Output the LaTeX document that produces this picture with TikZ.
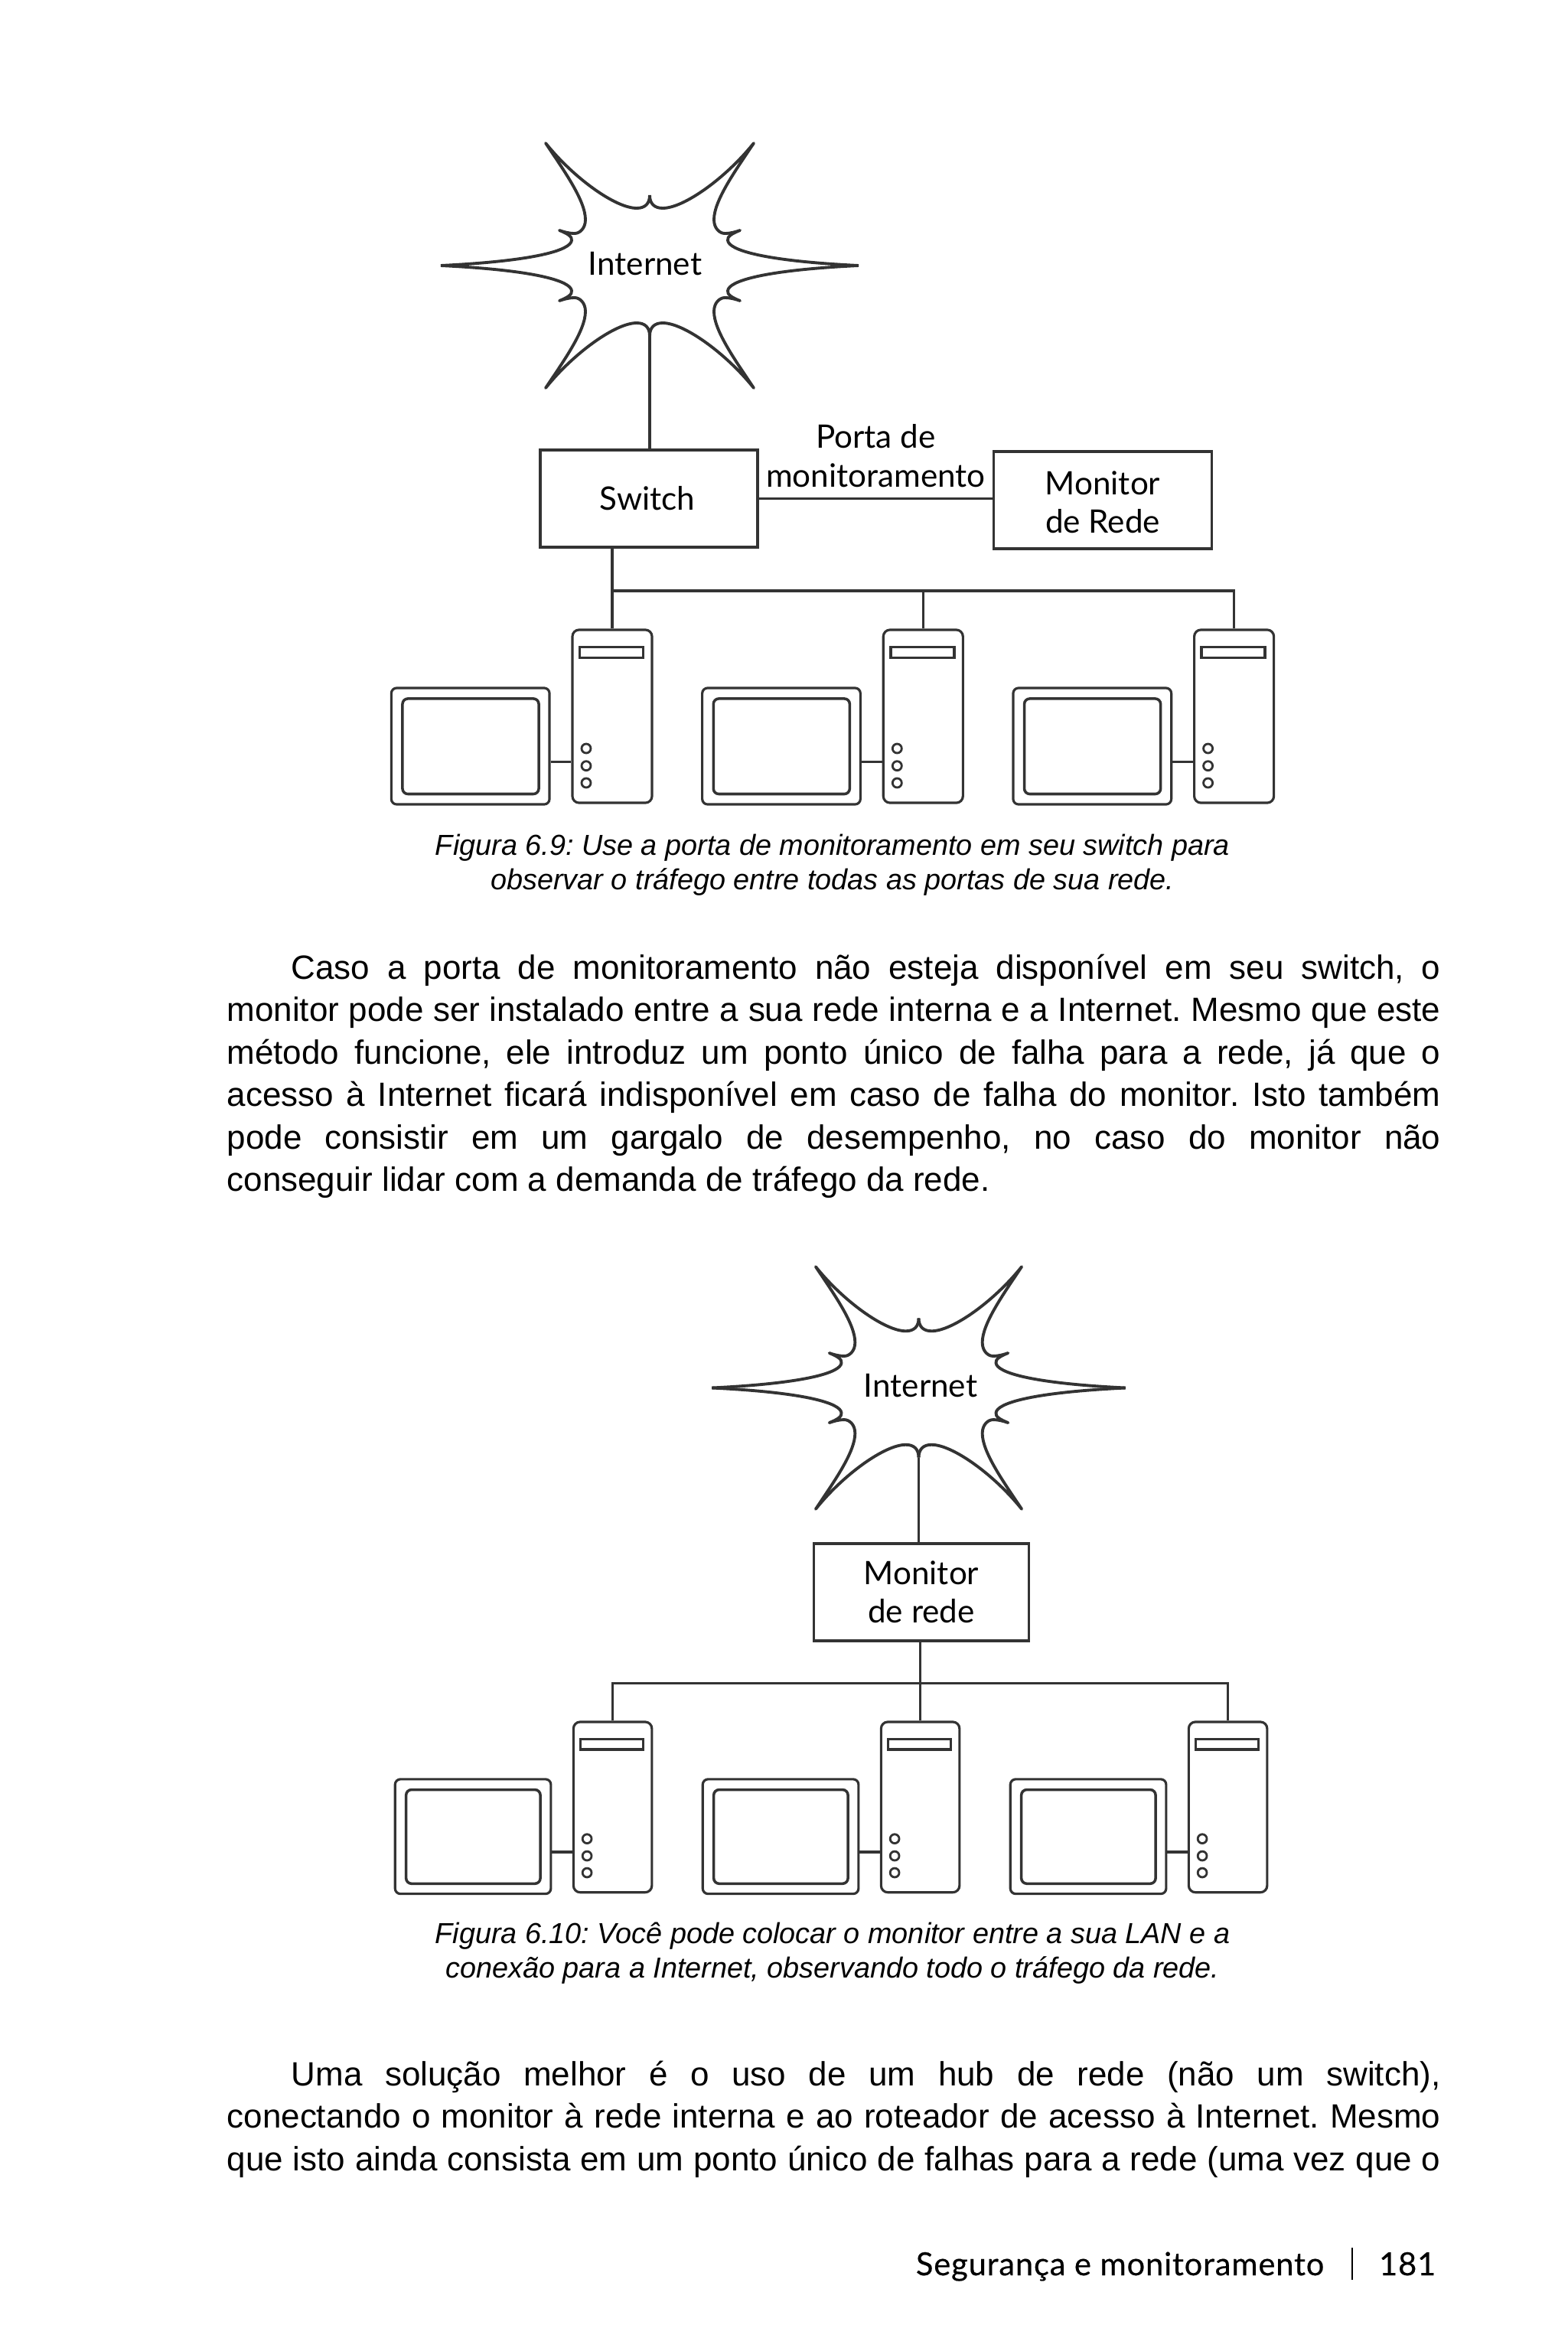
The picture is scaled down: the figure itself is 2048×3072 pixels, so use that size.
\documentclass[tikz,border=0pt]{standalone}
\usepackage{fontspec}
\setmainfont{Liberation Sans}
\newfontfamily\labelfont{Lato}
\newfontfamily\footfont[FakeBold=0.4,LetterSpace=2]{Lato}
\usetikzlibrary{positioning, calc}
\tolerance=9999
\hyphenpenalty=10000
\definecolor{inkgrey}{HTML}{333333}
\tikzset{
  netbox/.style={draw=inkgrey, line width=1pt, rectangle, inner sep=0pt, minimum height=1.27cm, align=center, font=\labelfont\fontsize{12}{14.3}\selectfont},
  netlabel/.style={inner sep=0pt, align=center, font=\labelfont\fontsize{12}{14.5}\selectfont},
  towerbox/.style={draw=inkgrey, line width=.9pt, rectangle, rounded corners=2.5pt, inner sep=0pt, minimum width=1.04cm, minimum height=2.26cm},
  casebox/.style={draw=inkgrey, line width=.9pt, rectangle, rounded corners=2pt, inner sep=0pt, minimum width=2.066cm, minimum height=1.52cm},
  screenbox/.style={draw=inkgrey, line width=1pt, rectangle, rounded corners=2pt, inner sep=0pt, minimum width=1.78cm, minimum height=1.245cm},
  slotbar/.style={draw=inkgrey, line width=1pt, rectangle, inner sep=0pt, minimum width=.83cm, minimum height=.14cm},
  lamp/.style={draw=inkgrey, line width=.8pt, circle, inner sep=0pt, minimum size=.12cm},
  wire/.style={draw=inkgrey, line width=1pt},
  bodytext/.style={anchor=north west, inner sep=0pt, text width=15.85cm, align=justify, font=\frenchspacing\fontsize{12.5}{15.8}\selectfont},
  figcaption/.style={inner sep=0pt, align=center, font=\frenchspacing\itshape\fontsize{10.75}{12.9}\selectfont},
  pics/station/.style={code={
    \node[towerbox] (-tower) at (0,113) {};
    \node[casebox] (-case) at (-185.3,152) {};
    \node[screenbox] (-screen) at (-185,152.2) {};
    \node[slotbar] (-slot) at (-1,29.6) {};
    \foreach \lampy in {155,177.7,200}
      \node[lamp] at (-34,\lampy) {};
    \draw[wire] (-case.east |- 0,172.6) -- (-tower.west |- 0,172.6);
  }},
  pics/burst/.style={code={
    \foreach \sx/\sy in {1/1,-1/1,1/-1,-1/-1}
      \draw[draw=inkgrey, line width=1.1pt, line join=round, xscale=\sx, yscale=\sy]
        (0,-92) .. controls (0,-81) and (6,-75) .. (17,-75)
        .. controls (45,-75) and (100,-115) .. (136,-160)
        .. controls (112,-124) and (84,-85) .. (84,-60)
        .. controls (84,-48) and (92,-42) .. (98,-42)
        .. controls (106,-42) and (112,-44) .. (118,-46)
        .. controls (108,-42) and (101,-38) .. (102,-33)
        .. controls (103,-20) and (150,-6) .. (273,0);
    \coordinate (-base) at (0,92);
  }}
}
\begin{document}
\begin{tikzpicture}[x=.01cm, y=-.01cm]
  \useasboundingbox (0,0) rectangle (2048,3072);

  \pic (burstA) at (849,347) {burst};
  \node[netlabel] (inetA) at (843,345) {Internet};
  \node[netbox, minimum width=2.84cm] (switch) at (848,651.5) {Switch\hspace*{1.2pt}};
  \node[netbox, minimum width=2.85cm] (monA) at (1441,653.5) {\rule{0pt}{10.5pt}Monitor\\de Rede};
  \foreach \pcname/\pcx in {pcA/800,pcB/1206.3,pcC/1612.6}
    \pic (\pcname) at (\pcx,823) {station};
  \coordinate (busA) at (800,772);

  \draw[wire] (burstA-base) -- (burstA-base |- switch.north);
  \draw[wire] (switch.east) -- node[netlabel, above=3.6pt] (port) {Porta de\\monitoramento} (switch.east -| monA.west);
  \draw[wire] (switch.south -| pcA-tower.north) -- (pcA-tower.north);
  \draw[wire] (busA) -| (pcC-tower.north);
  \draw[wire] (busA -| pcB-tower.north) -- (pcB-tower.north);

  \node[figcaption] (capA) at (1088,1130) {Figura 6.9: Use a porta de monitoramento em seu switch para\\observar o tráfego entre todas as portas de sua rede.};

  \node[bodytext] (paraA) at (296,1246) {\hspace*{.84cm}Caso a porta de monitoramento não esteja disponível em seu switch, o\linebreak
    monitor pode ser instalado entre a sua rede interna e a Internet. Mesmo que este\linebreak
    método funcione, ele introduz um ponto único de falha para a rede, já que o\linebreak
    acesso à Internet ficará indisponível em caso de falha do monitor. Isto também\linebreak
    pode consistir em um gargalo de desempenho, no caso do monitor não\linebreak
    conseguir lidar com a demanda de tráfego da rede.};

  \pic[scale=.99] (burstB) at (1200.5,1813.5) {burst};
  \node[netlabel] (inetB) at (1203,1811) {Internet};
  \node[netbox, minimum width=2.81cm] (monB) at (1204,2080.5) {Monitor\\de rede};
  \foreach \pcname/\pcx in {pcD/800.6,pcE/1202.6,pcF/1604.6}
    \pic[scale=.985, transform shape] (\pcname) at (\pcx,2250) {station};
  \coordinate (busB) at (800.6,2199.6);

  \draw[wire] (burstB-base) -- (burstB-base |- monB.north);
  \draw[wire] (monB.south -| pcE-tower.north) -- (pcE-tower.north);
  \draw[wire] (pcD-tower.north) |- (busB) -| (pcF-tower.north);

  \node[figcaption] (capB) at (1088,2552) {Figura 6.10: Você pode colocar o monitor entre a sua LAN e a\\conexão para a Internet, observando todo o tráfego da rede.};

  \node[bodytext] (paraB) at (296,2692) {\parfillskip=0pt\hspace*{.84cm}Uma solução melhor é o uso de um hub de rede (não um switch),\linebreak
    conectando o monitor à rede interna e ao roteador de acesso à Internet. Mesmo\linebreak
    que isto ainda consista em um ponto único de falhas para a rede (uma vez que o\par};

  \node[anchor=base east, inner sep=0pt, font=\footfont\fontsize{11.85}{14}\selectfont] (foot) at (1731,2973) {Segurança e monitoramento};
  \node[anchor=base east, inner sep=0pt, font=\footfont\fontsize{11.85}{14}\selectfont] (page) at (1877,2973) {181};
  \draw[line width=.8pt] (1767,2937) -- (1767,2979);
\end{tikzpicture}
\end{document}
